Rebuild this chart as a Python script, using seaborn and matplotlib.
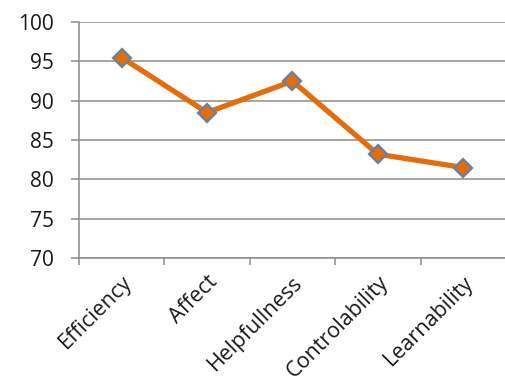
import numpy as np
import pandas as pd
import seaborn as sb
import matplotlib.pyplot as plt
import matplotlib.transforms as mtrans
from matplotlib.ticker import FixedLocator

categories = ['Efficiency', 'Affect', 'Helpfullness', 'Controlability', 'Learnability']
scores = [95.5, 88.5, 92.5, 83.2, 81.5]
y_ticks = [70, 75, 80, 85, 90, 95, 100]

sb.set_style('white')
plt.rcParams['font.family'] = ['Open Sans', 'DejaVu Sans']

df = pd.DataFrame({'pos': np.arange(len(categories)), 'score': scores})

fig = plt.figure(figsize=(5.06, 3.89), dpi=100)
ax = fig.add_axes([0.156, 0.337, 0.844, 0.606])

grid_col = '#8c8c8c'
for y in y_ticks:
    ax.axhline(y, color=grid_col, lw=1.1, zorder=0)

sb.lineplot(data=df, x='pos', y='score', ax=ax, color='#e46c0a', lw=3.8,
            marker='D', markersize=9, markerfacecolor='#e46c0a',
            markeredgecolor='#6382a8', markeredgewidth=1.6, zorder=3)

ax.set_xlim(-0.5, len(categories) - 0.5)
ax.set_ylim(70, 100)
ax.set_yticks(y_ticks)
ax.set_yticklabels([str(v) for v in y_ticks], fontsize=15, color='#1a1a1a')
ax.set_xticks(np.arange(len(categories)))
ax.set_xticklabels(categories, rotation=45, ha='right', rotation_mode='anchor',
                   fontsize=15.5, color='#1a1a1a')
# nudge the rotated labels a little to the left
shift = mtrans.ScaledTranslation(-6 / 100, 0, fig.dpi_scale_trans)
for lbl in ax.get_xticklabels():
    lbl.set_transform(lbl.get_transform() + shift)
ax.xaxis.set_minor_locator(FixedLocator(np.arange(len(categories) + 1) - 0.5))
ax.tick_params(axis='x', which='major', length=0, pad=10)
ax.tick_params(axis='x', which='minor', length=5, width=1.1, color=grid_col, bottom=True)
ax.tick_params(axis='y', length=6, width=1.1, color=grid_col, left=True, pad=12)

for side in ['top', 'right']:
    ax.spines[side].set_visible(False)
for side in ['left', 'bottom']:
    ax.spines[side].set_color(grid_col)
    ax.spines[side].set_linewidth(1.1)
ax.set_xlabel('')
ax.set_ylabel('')

plt.savefig('out.png', dpi=100)
